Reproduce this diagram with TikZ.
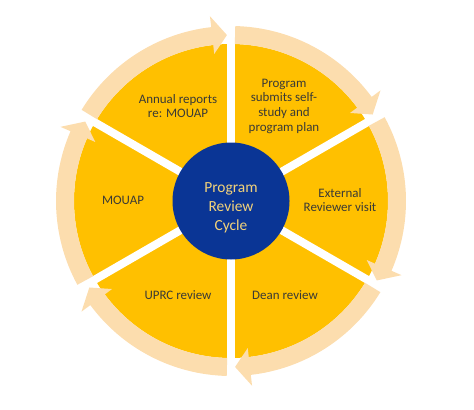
\documentclass[tikz,border=0pt]{standalone}
\usepackage{fontspec}
\setmainfont{Carlito}
\definecolor{gold}{HTML}{FFC000}
\definecolor{peach}{HTML}{FCDDAE}
\definecolor{navy}{HTML}{0A3595}
\definecolor{ctext}{HTML}{F2D27A}
\definecolor{stext}{HTML}{3A3A36}
\tikzset{
  sectortext/.style={align=center, text=stext, font=\fontsize{13}{14.7}\selectfont, inner sep=0pt},
  hubtext/.style={align=center, text=ctext, font=\fontsize{15.5}{18.8}\selectfont, inner sep=0pt},
  gapline/.style={white, line width=8bp},
  cyclearrow/.style={fill=peach}
}
\newcommand{\cyclearr}[1]{%
  \fill[cyclearrow] ({#1+58.6}:175) arc[start angle={#1+58.6}, end angle={#1+6.5}, radius=175]
    -- ({#1+6.5}:186) -- ({#1+1.4}:166) -- ({#1+6.5}:148) -- ({#1+6.5}:157)
    arc[start angle={#1+6.5}, end angle={#1+58.6}, radius=157] -- cycle;}
\begin{document}
\begin{tikzpicture}[x=1bp,y=1bp]
\useasboundingbox (0,0) rectangle (474,409);
\begin{scope}[shift={(231,208)}]
  \fill[gold] (0,0) circle[radius=157];
  \foreach \a in {90,30,-30,-90,-150,150} {
    \draw[gapline] (0,0) -- (\a:190);
  }
  \foreach \b in {90,30,-30,-90,-150,150} {
    \cyclearr{\b}
  }
  \node[circle, fill=navy, minimum size=117bp, inner sep=0pt] (hub) at (0,0) {};
  \node[hubtext] (hubtxt) at (0,-7) {Program\\Review\\Cycle};
  \node[sectortext] (s1) at (53,95) {Program\\submits self-\\study and\\program plan};
  \node[sectortext] (s2) at (109,1) {External\\Reviewer visit};
  \node[sectortext] (s3) at (54,-94) {Dean review};
  \node[sectortext] (s4) at (-53,-94) {UPRC review};
  \node[sectortext] (s5) at (-108,1) {MOUAP};
  \node[sectortext] (s6) at (-53,95) {Annual reports\\re: MOUAP};
\end{scope}
\end{tikzpicture}
\end{document}
